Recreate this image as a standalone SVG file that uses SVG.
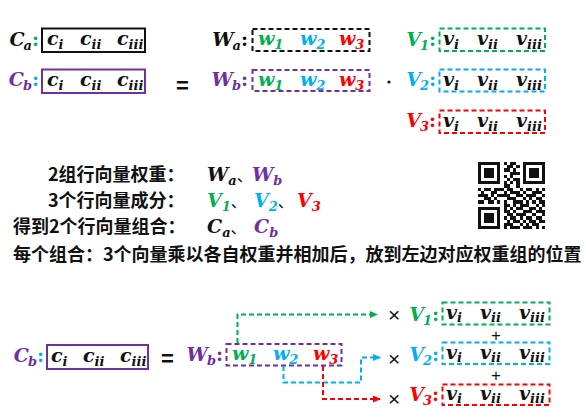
<svg xmlns="http://www.w3.org/2000/svg" width="586" height="418" viewBox="0 0 586 418">
<style>
.m{font-family:"DejaVu Serif","Liberation Serif",serif;font-weight:bold;font-style:italic;font-size:19px}
.s{font-size:13px}
.e{text-anchor:end}
.cn{font-family:"Noto Sans CJK SC","Noto Sans",sans-serif;font-size:18px;font-weight:bold;fill:#111}
.op{font-family:"Liberation Sans","DejaVu Sans",sans-serif;font-size:22px;font-weight:bold;fill:#111}
.x{font-family:"Liberation Sans","DejaVu Sans",sans-serif;font-size:21px;fill:#111}
.pl{font-family:"Liberation Sans","DejaVu Sans",sans-serif;font-size:17px;fill:#111}
.k{fill:#111}.g{fill:#00b050}.b{fill:#00b0f0}.r{fill:#ff0000}.p{fill:#7030a0}
.box{fill:none;stroke-width:2}
.dash{fill:none;stroke-width:2;stroke-dasharray:5 3}
.cl{font-style:normal}
.dn{font-family:"Noto Sans CJK SC",sans-serif;font-style:normal;font-weight:normal;font-size:16px;fill:#111}
</style>
<defs>
<marker id="ag" markerWidth="8" markerHeight="8" refX="7" refY="4" orient="auto" markerUnits="userSpaceOnUse"><path d="M0 0.5L8 4L0 7.5z" fill="#00b050"/></marker>
<marker id="ab" markerWidth="8" markerHeight="8" refX="7" refY="4" orient="auto" markerUnits="userSpaceOnUse"><path d="M0 0.5L8 4L0 7.5z" fill="#00b0f0"/></marker>
<marker id="ar" markerWidth="8" markerHeight="8" refX="7" refY="4" orient="auto" markerUnits="userSpaceOnUse"><path d="M0 0.5L8 4L0 7.5z" fill="#ff0000"/></marker>
</defs>

<!-- Top: C_a -->
<g id="Ca">
<text class="m k e" x="39" y="46">C<tspan class="s" dy="4" dx="-1">a</tspan><tspan class="cl g" dy="-4">:</tspan></text>
<rect class="box" x="42" y="28.5" width="103" height="23.5" stroke="#111"/>
<text class="m k" x="47" y="45">c<tspan class="s" dy="4">i</tspan></text>
<text class="m k" x="80" y="45">c<tspan class="s" dy="4">ii</tspan></text>
<text class="m k" x="117" y="45">c<tspan class="s" dy="4">iii</tspan></text>
</g>
<g id="Cb">
<text class="m p e" x="39" y="86">C<tspan class="s" dy="4" dx="-1">b</tspan><tspan class="cl b" dy="-4">:</tspan></text>
<rect class="box" x="42" y="69.5" width="103" height="23.5" stroke="#7030a0"/>
<text class="m k" x="47" y="86">c<tspan class="s" dy="4">i</tspan></text>
<text class="m k" x="80" y="86">c<tspan class="s" dy="4">ii</tspan></text>
<text class="m k" x="117" y="86">c<tspan class="s" dy="4">iii</tspan></text>
</g>
<text class="op" x="176" y="93">=</text>

<g id="Wa">
<text class="m k e" x="248" y="46">W<tspan class="s" dy="4" dx="-1">a</tspan><tspan class="cl" dy="-4">:</tspan></text>
<rect class="dash" x="252.5" y="29" width="117" height="22" stroke="#111"/>
<text class="m g" x="258" y="45">w<tspan class="s" dy="4">1</tspan></text>
<text class="m b" x="300" y="45">w<tspan class="s" dy="4">2</tspan></text>
<text class="m r" x="339" y="45">w<tspan class="s" dy="4">3</tspan></text>
</g>
<g id="Wb">
<text class="m p e" x="248" y="86">W<tspan class="s" dy="4" dx="-1">b</tspan><tspan class="cl" dy="-4">:</tspan></text>
<rect class="dash" x="252.5" y="70" width="117" height="21" stroke="#7030a0"/>
<text class="m g" x="258" y="86">w<tspan class="s" dy="4">1</tspan></text>
<text class="m b" x="300" y="86">w<tspan class="s" dy="4">2</tspan></text>
<text class="m r" x="339" y="86">w<tspan class="s" dy="4">3</tspan></text>
</g>
<circle cx="389" cy="82" r="1.6" fill="#111"/>

<g id="V1">
<text class="m g e" x="436" y="46">V<tspan class="s" dy="4" dx="-1">1</tspan><tspan class="cl" dy="-4">:</tspan></text>
<rect class="dash" x="439.5" y="28.5" width="105.5" height="22.5" stroke="#00b050"/>
<text class="m k" x="443" y="45">v<tspan class="s" dy="4">i</tspan></text>
<text class="m k" x="477" y="45">v<tspan class="s" dy="4">ii</tspan></text>
<text class="m k" x="516" y="45">v<tspan class="s" dy="4">iii</tspan></text>
</g>
<g id="V2">
<text class="m b e" x="436" y="86">V<tspan class="s" dy="4" dx="-1">2</tspan><tspan class="cl" dy="-4">:</tspan></text>
<rect class="dash" x="439.5" y="69.5" width="105.5" height="22" stroke="#00b0f0"/>
<text class="m k" x="443" y="86">v<tspan class="s" dy="4">i</tspan></text>
<text class="m k" x="477" y="86">v<tspan class="s" dy="4">ii</tspan></text>
<text class="m k" x="516" y="86">v<tspan class="s" dy="4">iii</tspan></text>
</g>
<g id="V3">
<text class="m r e" x="436" y="127">V<tspan class="s" dy="4" dx="-1">3</tspan><tspan class="cl" dy="-4">:</tspan></text>
<rect class="dash" x="439.5" y="110.5" width="105.5" height="22.5" stroke="#ff0000"/>
<text class="m k" x="443" y="127">v<tspan class="s" dy="4">i</tspan></text>
<text class="m k" x="477" y="127">v<tspan class="s" dy="4">ii</tspan></text>
<text class="m k" x="516" y="127">v<tspan class="s" dy="4">iii</tspan></text>
</g>

<!-- Explanations -->
<g id="notes">
<text class="cn" x="48" y="181">2组行向量权重：</text>
<text class="m k" x="207" y="181">W<tspan class="s" dy="4">a</tspan><tspan class="dn" dy="-4">、</tspan></text>
<text class="m p" x="252" y="181">W<tspan class="s" dy="4">b</tspan></text>
<text class="cn" x="48" y="207">3个行向量成分：</text>
<text class="m g" x="207" y="207">V<tspan class="s" dy="4">1</tspan><tspan class="dn" dy="-4">、</tspan></text>
<text class="m b" x="254" y="207">V<tspan class="s" dy="4">2</tspan><tspan class="dn" dy="-4">、</tspan></text>
<text class="m r" x="297" y="207">V<tspan class="s" dy="4">3</tspan></text>
<text class="cn" x="13" y="233">得到2个行向量组合：</text>
<text class="m k" x="207" y="233">C<tspan class="s" dy="4">a</tspan><tspan class="dn" dy="-4">、</tspan></text>
<text class="m p" x="254" y="233">C<tspan class="s" dy="4">b</tspan></text>
<text class="cn" x="13" y="261">每个组合：3个向量乘以各自权重并相加后，放到左边对应权重组的位置</text>
</g>

<!-- QR-like pattern -->
<g id="qr" transform="translate(478,162) scale(3.2)" fill="#111" shape-rendering="crispEdges">
<path fill-rule="evenodd" d="M0 0h7v7h-7z M1 1v5h5v-5z M2 2h3v3h-3z M14 0h7v7h-7z M15 1v5h5v-5z M16 2h3v3h-3z M0 14h7v7h-7z M1 15v5h5v-5z M2 16h3v3h-3z"/>
<path d="M8 0h1v1h-1z M10 0h2v1h-2z M9 1h2v1h-2z M12 1h1v1h-1z M8 2h2v1h-2z M11 2h1v1h-1z M10 3h3v1h-3z M8 4h1v1h-1z M10 4h1v1h-1z M9 5h1v1h-1z M11 5h2v1h-2z M8 6h1v1h-1z M10 6h1v1h-1z M12 6h1v1h-1z M8 7h2v1h-2z M12 7h1v1h-1z
M0 8h1v1h-1z M2 8h2v1h-2z M5 8h3v1h-3z M9 8h2v1h-2z M13 8h1v1h-1z M15 8h2v1h-2z M18 8h1v1h-1z M20 8h1v1h-1z
M1 9h1v1h-1z M4 9h2v1h-2z M8 9h1v1h-1z M10 9h3v1h-3z M14 9h1v1h-1z M17 9h3v1h-3z
M0 10h3v1h-3z M4 10h1v1h-1z M6 10h4v1h-4z M12 10h2v1h-2z M15 10h3v1h-3z M20 10h1v1h-1z
M2 11h2v1h-2z M5 11h1v1h-1z M9 11h3v1h-3z M14 11h1v1h-1z M16 11h1v1h-1z M18 11h2v1h-2z
M0 12h2v1h-2z M3 12h2v1h-2z M6 12h1v1h-1z M8 12h1v1h-1z M11 12h3v1h-3z M15 12h1v1h-1z M17 12h1v1h-1z M19 12h2v1h-2z
M8 13h2v1h-2z M11 13h1v1h-1z M13 13h3v1h-3z M18 13h1v1h-1z M20 13h1v1h-1z
M8 14h1v1h-1z M10 14h1v1h-1z M12 14h2v1h-2z M16 14h2v1h-2z M19 14h1v1h-1z
M8 15h2v1h-2z M11 15h1v1h-1z M14 15h3v1h-3z M18 15h3v1h-3z
M9 16h2v1h-2z M12 16h3v1h-3z M17 16h1v1h-1z M20 16h1v1h-1z
M8 17h1v1h-1z M10 17h2v1h-2z M13 17h1v1h-1z M15 17h2v1h-2z M18 17h2v1h-2z
M9 18h1v1h-1z M11 18h2v1h-2z M14 18h1v1h-1z M16 18h2v1h-2z M19 18h2v1h-2z
M8 19h3v1h-3z M13 19h1v1h-1z M15 19h1v1h-1z M17 19h2v1h-2z
M8 20h1v1h-1z M10 20h3v1h-3z M14 20h3v1h-3z M18 20h1v1h-1z M20 20h1v1h-1z"/>
</g>

<!-- Bottom -->
<g id="Cb2">
<text class="m p e" x="44" y="362">C<tspan class="s" dy="4" dx="-1">b</tspan><tspan class="cl b" dy="-4">:</tspan></text>
<rect class="box" x="47" y="345" width="101" height="24" stroke="#7030a0"/>
<text class="m k" x="51" y="362">c<tspan class="s" dy="4">i</tspan></text>
<text class="m k" x="83" y="362">c<tspan class="s" dy="4">ii</tspan></text>
<text class="m k" x="120" y="362">c<tspan class="s" dy="4">iii</tspan></text>
</g>
<text class="op" x="161" y="366">=</text>
<g id="Wb2">
<text class="m p e" x="223" y="361">W<tspan class="s" dy="4" dx="-1">b</tspan><tspan class="cl" dy="-4">:</tspan></text>
<rect class="dash" x="226.5" y="344" width="115" height="21.5" stroke="#7030a0"/>
<text class="m g" x="232" y="360">w<tspan class="s" dy="4">1</tspan></text>
<text class="m b" x="273" y="360">w<tspan class="s" dy="4">2</tspan></text>
<text class="m r" x="313" y="360">w<tspan class="s" dy="4">3</tspan></text>
</g>

<g id="connectors">
<path class="dash" d="M237.5 343V314.5H377" stroke="#00b050" marker-end="url(#ag)"/>
<path class="dash" d="M283.5 366V382.5H361V357.5H380" stroke="#00b0f0" marker-end="url(#ab)"/>
<path class="dash" d="M323 366V399H380" stroke="#ff0000" marker-end="url(#ar)"/>
</g>

<text class="x" x="388" y="322">×</text>
<text class="x" x="388" y="366">×</text>
<text class="x" x="388" y="406">×</text>

<g id="V1b">
<text class="m g e" x="439" y="321">V<tspan class="s" dy="4" dx="-1">1</tspan><tspan class="cl" dy="-4">:</tspan></text>
<rect class="dash" x="442.5" y="302.5" width="107" height="22" stroke="#00b050"/>
<text class="m k" x="446" y="319">v<tspan class="s" dy="3">i</tspan></text>
<text class="m k" x="480" y="319">v<tspan class="s" dy="3">ii</tspan></text>
<text class="m k" x="519" y="319">v<tspan class="s" dy="3">iii</tspan></text>
</g>
<text class="pl" x="491" y="341">+</text>
<g id="V2b">
<text class="m b e" x="439" y="361">V<tspan class="s" dy="4" dx="-1">2</tspan><tspan class="cl" dy="-4">:</tspan></text>
<rect class="dash" x="442.5" y="342.5" width="107" height="21.5" stroke="#00b0f0"/>
<text class="m k" x="446" y="359">v<tspan class="s" dy="3">i</tspan></text>
<text class="m k" x="480" y="359">v<tspan class="s" dy="3">ii</tspan></text>
<text class="m k" x="519" y="359">v<tspan class="s" dy="3">iii</tspan></text>
</g>
<text class="pl" x="491" y="381">+</text>
<g id="V3b">
<text class="m r e" x="439" y="401">V<tspan class="s" dy="4" dx="-1">3</tspan><tspan class="cl" dy="-4">:</tspan></text>
<rect class="dash" x="442.5" y="384.5" width="107" height="20.5" stroke="#ff0000"/>
<text class="m k" x="446" y="400">v<tspan class="s" dy="3">i</tspan></text>
<text class="m k" x="480" y="400">v<tspan class="s" dy="3">ii</tspan></text>
<text class="m k" x="519" y="400">v<tspan class="s" dy="3">iii</tspan></text>
</g>
</svg>
